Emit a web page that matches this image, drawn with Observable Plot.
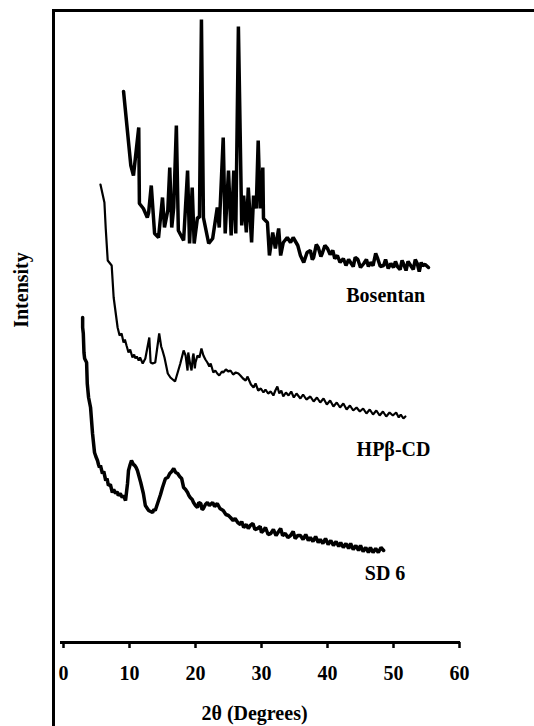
<!DOCTYPE html>
<html>
<head>
<meta charset="utf-8">
<script src="https://cdn.jsdelivr.net/npm/d3@7"></script>
<script src="https://cdn.jsdelivr.net/npm/@observablehq/plot@0.6"></script>
<style>
  html, body { margin: 0; padding: 0; background: #fff; }
  #wrap { position: relative; width: 534px; height: 726px; overflow: hidden; }
  #frame { position: absolute; left: 52px; top: 9px; width: 600px; height: 800px;
           border-left: 3px solid #000; border-top: 3px solid #000; box-sizing: border-box; }
  #ylab { position: absolute; left: 21px; top: 290px; transform: translate(-50%, -50%) rotate(-90deg);
          font: bold 20px "Liberation Serif", "Times New Roman", serif; white-space: nowrap; }
  #chart { position: absolute; left: 0; top: 0; }
</style>
</head>
<body>
<div id="wrap">
  <div id="frame"></div>
  <div id="ylab">Intensity</div>
  <div id="chart"></div>
</div>
<script>
// 2θ (degrees) and relative intensity (arbitrary units, stacked offsets as in the figure)
const bosentan = [
[9.1,551],[10.2,477],[10.6,467],[11.4,515],[11.5,439],[12.1,434],[12.7,425],[12.9,430],[13.3,457],[13.8,409],
[14.4,405],[15.0,445],[15.3,415],[15.8,432],[16.1,475],[16.4,415],[16.7,435],[17.1,517],[17.4,412],[18.2,402],
[18.8,472],[19.1,399],[19.5,455],[19.8,399],[20.3,425],[20.6,425],[20.9,623],[21.2,425],[22.0,399],[22.6,404],
[23.3,435],[23.6,415],[24.2,505],[24.5,409],[25.0,472],[25.4,407],[25.8,472],[26.1,409],[26.5,616],[27.0,417],
[27.3,447],[27.7,410],[28.0,455],[28.5,400],[28.8,447],[29.2,434],[29.5,502],[29.8,434],[30.2,475],[30.3,424],
[30.9,420],[31.2,387],[31.7,410],[32.1,394],[32.6,414],[32.9,387],[33.3,400],[33.9,405],[34.4,400],[34.8,405],
[35.5,397],[35.9,387],[36.4,380],[36.9,390],[37.4,392],[37.7,383],[37.9,385],[38.3,398],[38.6,395],[39.0,386],
[39.2,389],[39.6,397],[40.0,394],[40.4,388],[40.8,392],[41.1,384],[41.5,387],[41.9,380],[42.4,384],[42.8,377],
[43.2,383],[43.5,380],[43.9,376],[44.2,385],[44.6,383],[45.0,375],[45.5,379],[45.9,383],[46.2,376],[46.5,380],
[46.9,377],[47.3,389],[47.6,384],[48.0,376],[48.5,377],[48.8,383],[49.2,374],[49.6,379],[50.0,375],[50.3,381],
[50.6,376],[51.0,373],[51.3,382],[51.5,379],[51.9,372],[52.2,381],[52.6,377],[53.0,373],[53.3,383],[53.6,379],
[53.9,371],[54.2,380],[54.4,377],[54.8,378],[55.3,375]
];
const hpbcd = [
[5.6,458],[6.2,440],[6.4,414],[6.7,382],[7.3,377],[7.6,345],[8.2,315],[8.5,307],[8.8,309],[9.1,300],
[9.3,303],[9.55,297],[9.85,290],[10.1,293],[10.45,285],[10.7,288],[10.9,284],[11.1,286],[11.4,282],[11.6,285],
[12.0,279],[12.4,284],[13.0,305],[13.2,280],[13.5,279],[13.9,280],[14.5,309],[14.8,296],[15.0,292],[15.3,285],
[15.8,269],[16.2,265],[16.9,261],[17.3,270],[17.7,279],[18.2,292],[18.5,287],[18.8,272],[18.9,290],[19.2,278],
[19.4,272],[19.6,286],[19.7,289],[19.9,274],[20.0,280],[20.3,287],[20.6,285],[20.9,294],[21.2,287],[21.5,283],
[21.8,280],[22.1,276],[22.3,279],[22.7,270],[23.0,272],[23.3,269],[23.6,267],[24.0,271],[24.2,270],[24.6,273],
[25.0,271],[25.3,272],[25.7,268],[26.1,270],[26.5,269],[26.8,267],[27.2,264],[27.6,262],[27.9,266],[28.0,264],
[28.4,258],[28.8,255],[29.1,259],[29.5,252],[29.9,254],[30.3,250],[30.6,253],[31.0,249],[31.4,251],[31.8,247],
[32.1,252],[32.4,256],[32.7,249],[33.0,252],[33.3,246],[33.7,250],[34.1,247],[34.5,251],[34.9,245],[35.3,249],
[35.9,244],[36.3,248],[36.8,243],[37.4,246],[37.9,241],[38.4,245],[38.9,240],[39.4,244],[39.9,238],[40.4,242],
[40.9,236],[41.4,240],[41.9,235],[42.4,239],[42.9,233],[43.4,237],[43.9,232],[44.4,235],[44.9,231],[45.4,234],
[45.9,229],[46.4,233],[46.9,228],[47.4,232],[47.9,227],[48.4,231],[48.9,226],[49.4,230],[49.9,227],[50.4,230],
[50.8,225],[51.1,228],[51.5,224],[51.8,226]
];
const sd6 = [
[2.9,325],[2.9,315],[3.0,309],[3.1,290],[3.2,284],[3.5,280],[3.6,259],[3.8,245],[4.1,235],[4.4,209],
[4.7,190],[4.9,186],[5.15,182],[5.3,178],[5.45,175],[5.6,177],[5.9,169],[6.1,171],[6.4,162],[6.6,164],
[6.8,157],[7.1,158],[7.4,150],[7.6,153],[7.9,149],[8.1,151],[8.3,147],[8.6,149],[8.9,145],[9.1,147],
[9.4,142],[9.7,159],[9.85,172],[10.1,178],[10.3,182],[10.6,178],[10.8,177],[11.0,175],[11.2,172],[11.7,160],
[12.1,149],[12.4,137],[12.7,134],[12.9,132],[13.2,131],[13.5,130],[13.7,133],[13.9,132],[14.4,142],[14.7,148],
[15.0,155],[15.45,164],[15.8,165],[16.1,169],[16.4,171],[16.7,174],[17.0,170],[17.3,169],[17.6,166],[17.9,164],
[18.2,155],[18.5,153],[18.8,150],[19.0,147],[19.2,145],[19.5,143],[19.7,140],[20.0,137],[20.3,135],[20.5,140],
[20.8,139],[21.0,133],[21.2,134],[21.5,138],[21.8,140],[22.1,137],[22.6,140],[22.9,136],[23.3,139],[23.7,134],
[24.2,132],[24.6,128],[25.0,127],[25.3,125],[25.7,122],[26.0,124],[26.4,120],[26.8,118],[27.0,121],[27.3,115],
[27.7,118],[28.0,114],[28.3,117],[28.7,119],[29.0,113],[29.4,114],[29.8,116],[30.0,110],[30.3,112],[30.6,115],
[31.0,108],[31.4,109],[31.8,113],[32.2,107],[32.5,110],[32.9,114],[33.2,107],[33.6,109],[34.0,105],[34.4,107],
[34.8,111],[35.1,104],[35.5,107],[35.9,107],[36.3,103],[36.7,108],[37.1,102],[37.4,105],[37.8,101],[38.2,106],
[38.6,100],[38.9,103],[39.3,99],[39.7,104],[40.1,98],[40.5,102],[40.9,97],[41.3,101],[41.7,96],[42.0,100],
[42.4,95],[42.8,99],[43.2,94],[43.5,99],[43.9,93],[44.3,97],[44.7,92],[45.0,97],[45.4,91],[45.8,95],
[46.2,90],[46.5,95],[46.9,90],[47.3,94],[47.7,90],[48.1,95],[48.5,92]
];
const seriesNames = ["Bosentan", "HPβ-CD", "SD 6"];
const seriesWidths = [3.5, 2.2, 3.5];
const labelX = [54.8, 55.6, 51.8];
const labelY = [347, 193, 69];
const xTicks = [0, 10, 20, 30, 40, 50, 60];

const allSeries = [bosentan, hpbcd, sd6];
const rows = allSeries.flatMap((s, i) => s.map(([x, y]) => ({series: seriesNames[i], x, y})));
const labels = seriesNames.map((name, i) => ({name, x: labelX[i], y: labelY[i]}));
const font = "'Liberation Serif', 'Times New Roman', serif";

const chart = Plot.plot({
  width: 534,
  height: 726,
  marginLeft: 63,
  marginRight: 75,
  marginTop: 10,
  marginBottom: 84,
  style: {fontFamily: font, fontSize: "20px", fontWeight: "bold", background: "transparent", overflow: "visible", color: "#000"},
  x: {domain: [0, 60]},
  y: {domain: [0, 632], axis: null},
  marks: [
    Plot.ruleY([0], {stroke: "#000", strokeWidth: 3, insetLeft: -3, insetRight: -1}),
    Plot.axisX({ticks: xTicks, tickSize: 6, tickPadding: 17, strokeWidth: 2.5, fontSize: 20, fontWeight: "bold", label: null}),
    ...seriesNames.map((name, i) =>
      Plot.line(rows.filter(d => d.series === name), {x: "x", y: "y", stroke: "#000", strokeWidth: seriesWidths[i], strokeLinejoin: "bevel"})
    ),
    Plot.text(labels, {x: "x", y: "y", text: "name", textAnchor: "end", lineAnchor: "middle", fontSize: 20, fontWeight: "bold"}),
    Plot.text(["2θ (Degrees)"], {text: d => d, frameAnchor: "bottom", dy: 71, dx: -7, lineAnchor: "middle", fontSize: 20, fontWeight: "bold"})
  ]
});
document.getElementById("chart").appendChild(chart);
</script>
</body>
</html>
